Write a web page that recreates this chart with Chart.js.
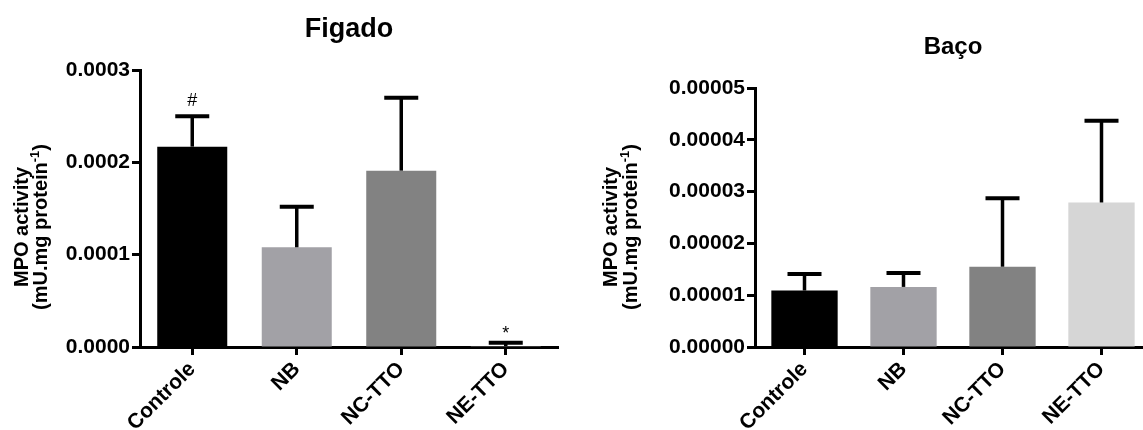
<!DOCTYPE html>
<html>
<head>
<meta charset="utf-8">
<script src="https://cdn.jsdelivr.net/npm/chart.js@4.4.1/dist/chart.umd.min.js"></script>
<style>
  html, body { margin: 0; padding: 0; background: #fff; overflow: hidden; }
  #wrap { position: relative; width: 1143px; height: 430px; overflow: hidden; }
  canvas { position: absolute; top: 0; }
  #chartFigado { left: 0; }
  #chartBaco { left: 575px; }
</style>
</head>
<body>
<div id="wrap">
  <canvas id="chartFigado" width="575" height="430"></canvas>
  <canvas id="chartBaco" width="590" height="430"></canvas>
</div>
<script>
const groups = ["Controle", "NB", "NC-TTO", "NE-TTO"];
const barColors = ["#000000", "#a2a1a6", "#828282", "#d6d6d6"];

// Figado
const figadoMean = [0.000217, 0.000108, 0.000191, 0.0000008];
const figadoSem = [0.000033, 0.000044, 0.000079, 0.0000037];
const figadoMarks = ["#", "", "", "*"];
const figadoTicks = [0, 0.0001, 0.0002, 0.0003];

// Baço
const bacoMean = [0.0000109, 0.0000116, 0.0000155, 0.0000279];
const bacoSem = [0.0000032, 0.0000027, 0.0000132, 0.0000158];
const bacoMarks = ["", "", "", ""];
const bacoTicks = [0, 0.00001, 0.00002, 0.00003, 0.00004, 0.00005];

const FONT = '"Liberation Sans", Arial, Helvetica, sans-serif';

// error bars (SEM, upper side only), significance marks and titles
const decorPlugin = {
  id: "decor",
  afterDatasetsDraw(chart, args, opts) {
    const ctx = chart.ctx;
    const yScale = chart.scales.y;
    const bars = chart.getDatasetMeta(0).data;
    ctx.save();
    ctx.strokeStyle = "#000";
    ctx.fillStyle = "#000";
    bars.forEach((bar, i) => {
      const top = yScale.getPixelForValue(opts.mean[i] + opts.sem[i]);
      ctx.lineWidth = 3.5;
      ctx.beginPath();
      ctx.moveTo(bar.x, bar.y);
      ctx.lineTo(bar.x, top);
      ctx.stroke();
      ctx.lineWidth = 4;
      ctx.beginPath();
      ctx.moveTo(bar.x - 17, top);
      ctx.lineTo(bar.x + 17, top);
      ctx.stroke();
      const mark = opts.marks[i];
      if (mark) {
        ctx.font = `18px ${FONT}`;
        ctx.textAlign = "center";
        ctx.textBaseline = "alphabetic";
        const m = ctx.measureText(mark);
        ctx.fillText(mark, bar.x, top - 10 - m.actualBoundingBoxDescent);
      }
    });
    ctx.restore();
  },
  afterDraw(chart, args, opts) {
    const ctx = chart.ctx;
    const area = chart.chartArea;
    ctx.save();
    ctx.fillStyle = "#000";

    // chart title
    ctx.font = `bold ${opts.titleSize}px ${FONT}`;
    ctx.textAlign = "center";
    ctx.textBaseline = "alphabetic";
    ctx.fillText(opts.title, (area.left + area.right) / 2, opts.titleY);

    // y axis title, two lines, rotated
    const cy = 227;
    ctx.font = `bold 20px ${FONT}`;
    ctx.save();
    ctx.translate(opts.yTitleX[0], cy);
    ctx.rotate(-Math.PI / 2);
    ctx.fillText("MPO activity", 0, 0);
    ctx.restore();

    ctx.save();
    ctx.translate(opts.yTitleX[1], cy);
    ctx.rotate(-Math.PI / 2);
    const part1 = "(mU.mg protein";
    const sup = "-1";
    const part3 = ")";
    ctx.font = `bold 20px ${FONT}`;
    const w1 = ctx.measureText(part1).width;
    const w3 = ctx.measureText(part3).width;
    ctx.font = `bold 13px ${FONT}`;
    const w2 = ctx.measureText(sup).width;
    let x = -(w1 + w2 + w3) / 2;
    ctx.textAlign = "left";
    ctx.font = `bold 20px ${FONT}`;
    ctx.fillText(part1, x, 0);
    x += w1;
    ctx.font = `bold 13px ${FONT}`;
    ctx.fillText(sup, x, -8);
    x += w2;
    ctx.font = `bold 20px ${FONT}`;
    ctx.fillText(part3, x, 0);
    ctx.restore();

    ctx.restore();
  },
};

function makeChart(canvasId, cfg) {
  return new Chart(document.getElementById(canvasId), {
    type: "bar",
    data: {
      labels: groups,
      datasets: [
        {
          data: cfg.mean,
          backgroundColor: barColors,
          borderWidth: 0,
          barPercentage: 0.67,
          categoryPercentage: 1,
        },
      ],
    },
    options: {
      responsive: false,
      animation: false,
      layout: { padding: { top: cfg.padTop, right: cfg.padRight, left: 0, bottom: 0 } },
      plugins: {
        legend: { display: false },
        tooltip: { enabled: false },
        decor: {
          mean: cfg.mean,
          sem: cfg.sem,
          marks: cfg.marks,
          title: cfg.title,
          titleSize: cfg.titleSize,
          titleY: cfg.titleY,
          yTitleX: cfg.yTitleX,
        },
      },
      scales: {
        x: {
          offset: true,
          grid: {
            offset: false,
            drawOnChartArea: false,
            tickLength: 8,
            tickWidth: 3,
            tickColor: "#000",
            color: "#000",
          },
          border: { display: true, color: "#000", width: 3 },
          ticks: {
            color: "#000",
            font: { family: FONT, size: 21, weight: "bold" },
            maxRotation: 45,
            minRotation: 45,
            autoSkip: false,
            padding: 2,
          },
          afterFit: (s) => { s.height = 83; },
        },
        y: {
          min: cfg.ticks[0],
          max: cfg.ticks[cfg.ticks.length - 1],
          afterBuildTicks: (s) => { s.ticks = cfg.ticks.map((v) => ({ value: v })); },
          grid: {
            drawOnChartArea: false,
            tickLength: 8,
            tickWidth: 3,
            tickColor: "#000",
            color: "#000",
          },
          border: { display: true, color: "#000", width: 3 },
          ticks: {
            color: "#000",
            font: { family: FONT, size: 21, weight: "bold" },
            padding: 2,
            callback: (v) => Number(v).toFixed(cfg.digits),
          },
          afterFit: (s) => { s.width = cfg.axisWidth; },
        },
      },
    },
    plugins: [decorPlugin],
  });
}

makeChart("chartFigado", {
  mean: figadoMean,
  sem: figadoSem,
  marks: figadoMarks,
  ticks: figadoTicks,
  digits: 4,
  title: "Figado",
  titleSize: 27,
  titleY: 37,
  yTitleX: [28, 47],
  padTop: 70,
  padRight: 17,
  axisWidth: 140,
});

makeChart("chartBaco", {
  mean: bacoMean,
  sem: bacoSem,
  marks: bacoMarks,
  ticks: bacoTicks,
  digits: 5,
  title: "Baço",
  titleSize: 24,
  titleY: 54,
  yTitleX: [42, 62],
  padTop: 88,
  padRight: 14,
  axisWidth: 180,
});
</script>
</body>
</html>
